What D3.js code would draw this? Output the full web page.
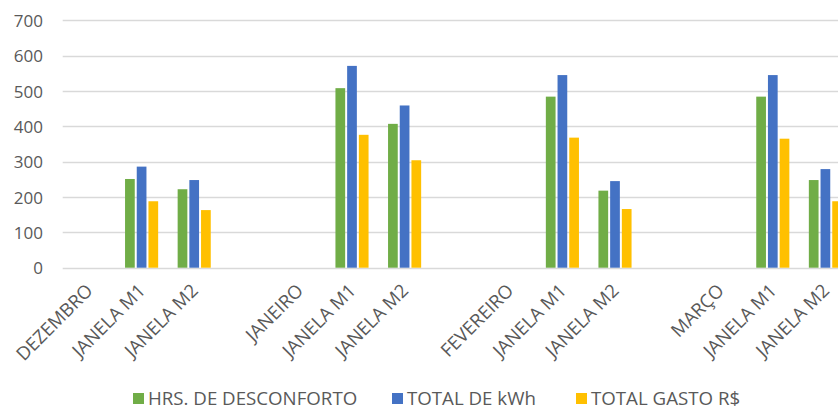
<!DOCTYPE html>
<html>
<head>
<meta charset="utf-8">
<script src="https://cdn.jsdelivr.net/npm/d3@7"></script>
<style>
  html, body { margin: 0; padding: 0; background: #fff; }
  svg { display: block; }
  text { font-family: "Open Sans", "Liberation Sans", sans-serif; fill: #595959; }
</style>
</head>
<body>
<svg id="chart" width="838" height="408"></svg>
<script>
// Axis categories (blank entries separate the month groups)
const categories = [
  "DEZEMBRO", "JANELA M1", "JANELA M2", "",
  "JANEIRO", "JANELA M1", "JANELA M2", "",
  "FEVEREIRO", "JANELA M1", "JANELA M2", "",
  "MARÇO", "JANELA M1", "JANELA M2"
];

const seriesNames = ["HRS. DE DESCONFORTO", "TOTAL DE kWh", "TOTAL GASTO R$"];
const seriesColors = ["#70ad47", "#4472c4", "#ffc000"];

// One value per category; null where the category has no bar
const hrsDesconforto = [null, 251, 222, null, null, 508, 407, null, null, 484, 218, null, null, 484, 248];
const totalKwh       = [null, 286, 248, null, null, 571, 459, null, null, 545, 245, null, null, 545, 279];
const totalGasto     = [null, 188, 163, null, null, 376, 304, null, null, 368, 166, null, null, 365, 188];

const yTicks = [0, 100, 200, 300, 400, 500, 600, 700];

const seriesValues = [hrsDesconforto, totalKwh, totalGasto];

const svg = d3.select("#chart");

const plotLeft = 62.7;
const bandStep = 52.6;
const x0 = d3.scaleBand()
  .domain(d3.range(categories.length))
  .range([plotLeft, plotLeft + bandStep * categories.length])
  .paddingInner(0)
  .paddingOuter(0);

const groupWidth = 35.1;
const x1 = d3.scaleBand()
  .domain(d3.range(seriesNames.length))
  .range([0, groupWidth])
  .paddingInner(0.17)
  .paddingOuter(0.085);

const y = d3.scaleLinear().domain([0, 700]).range([267.7, 20.3]);

// Horizontal gridlines
svg.append("g")
  .selectAll("line")
  .data(yTicks)
  .join("line")
  .attr("x1", plotLeft)
  .attr("x2", 860)
  .attr("y1", d => Math.round(y(d)) + 0.5)
  .attr("y2", d => Math.round(y(d)) + 0.5)
  .attr("stroke", "#d9d9d9")
  .attr("stroke-width", 1.3);

// Y axis labels
const yAxis = d3.axisLeft(y).tickValues(yTicks).tickSize(0).tickPadding(0);
const yG = svg.append("g")
  .attr("transform", `translate(${43},0)`)
  .call(yAxis);
yG.select(".domain").remove();
yG.selectAll("text")
  .attr("font-size", "17px")
  .attr("fill", "#595959")
  .attr("dy", "0.36em")
  .style("font-family", "'Open Sans', sans-serif");

// Bars
const groups = svg.append("g")
  .selectAll("g")
  .data(categories.map((c, i) => i))
  .join("g")
  .attr("transform", i => `translate(${x0(i) + (x0.bandwidth() - groupWidth) / 2},0)`);

groups.selectAll("rect")
  .data(i => seriesValues.map((vals, s) => ({ s, v: vals[i] })).filter(d => d.v != null))
  .join("rect")
  .attr("x", d => x1(d.s))
  .attr("width", x1.bandwidth())
  .attr("y", d => y(d.v))
  .attr("height", d => y(0) - y(d.v))
  .attr("fill", d => seriesColors[d.s]);

// Category labels rotated at -45°
const xAxis = d3.axisBottom(x0).tickFormat(i => categories[i]).tickSize(0).tickPadding(0);
const xG = svg.append("g")
  .attr("transform", `translate(0,${y(0)})`)
  .call(xAxis);
xG.select(".domain").remove();
xG.selectAll("text")
  .attr("font-size", "18.5px")
  .attr("fill", "#595959")
  .attr("text-anchor", "end")
  .attr("dy", null)
  .attr("y", null)
  .attr("transform", "translate(5,24) rotate(-45)")
  .style("font-family", "'Open Sans', sans-serif");

// Legend
const legendX = [133, 392, 576];
const legend = svg.append("g")
  .selectAll("g")
  .data(seriesNames)
  .join("g")
  .attr("transform", (d, i) => `translate(${legendX[i]},393)`);
legend.append("rect")
  .attr("width", 11)
  .attr("height", 11)
  .attr("fill", (d, i) => seriesColors[i]);
legend.append("text")
  .attr("x", 15)
  .attr("y", 11.5)
  .attr("font-size", "18.7px")
  .text(d => d);
</script>
</body>
</html>
